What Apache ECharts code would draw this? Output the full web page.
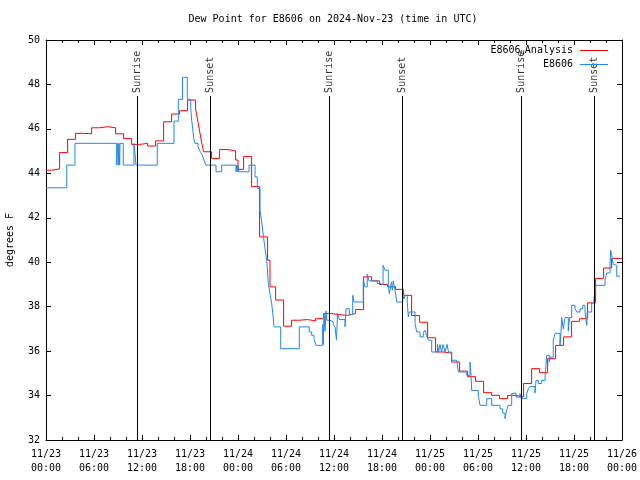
<!DOCTYPE html>
<html>
<head>
<meta charset="utf-8">
<script src="https://cdn.jsdelivr.net/npm/echarts@6/dist/echarts.min.js"></script>
<style>html,body{margin:0;padding:0;background:#fff}#c{width:640px;height:480px}</style>
</head>
<body>
<div id="c"></div>
<script>
// ---- data (hours since 2024-11-23 00:00 UTC) ----
const xTickLabels = ['11/23\n00:00','11/23\n06:00','11/23\n12:00','11/23\n18:00','11/24\n00:00','11/24\n06:00','11/24\n12:00','11/24\n18:00','11/25\n00:00','11/25\n06:00','11/25\n12:00','11/25\n18:00','11/26\n00:00'];

const redTimes = [0,0.7,1.7,2.7,3.7,4.7,5.7,6.7,7.7,8.7,9.7,10.7,11.7,12.7,13.7,14.7,15.7,16.7,17.7,18.7,18.95,19.2,19.45,19.7,20.7,21.7,22.7,23.7,24.0,24.7,25.7,26.7,27.7,28.0,28.7,29.7,30.7,31.7,32.7,33.7,34.7,35.7,36.7,37.7,38.7,39.7,40.7,41.7,42.7,43.7,44.7,45.7,46.7,47.7,48.7,49.7,50.7,51.7,52.7,53.7,54.7,55.7,56.7,57.7,58.7,59.7,60.7,61.7,62.7,63.7,64.7,65.7,66.7,67.7,68.7,69.7,70.7,72];
const redValues = [44.14,44.2,44.94,45.53,45.8,45.78,46.05,46.1,46.05,45.78,45.57,45.3,45.35,45.23,45.46,46.32,46.67,46.82,47.3,46.9,46.4,45.9,45.4,44.97,44.67,45.07,45.01,44.6,44.18,44.76,43.4,41.14,40.09,38.89,38.3,37.12,37.39,37.42,37.36,37.46,37.69,37.64,37.61,37.69,37.87,39.34,39.16,39.0,38.89,38.78,38.51,37.6,37.3,36.6,35.96,35.91,35.51,35.1,34.85,34.64,34.13,34.01,33.86,34.01,33.93,34.54,35.21,35.03,35.66,36.26,36.64,37.34,37.46,38.17,39.27,39.74,40.17,40.17];

const blueTimes = [0,2.59,3.62,8.84,8.94,9.04,9.12,9.21,9.25,9.66,11.0,11.25,13.91,16.0,16.54,17.06,17.66,18.09,18.21,18.34,18.46,18.62,19.0,19.25,19.5,19.75,20.0,21.25,21.96,23.75,23.84,23.91,24.0,24.09,25.38,26.13,26.41,26.75,26.94,27.16,27.38,27.59,27.79,28.0,28.21,28.38,28.5,29.34,31.66,32.91,33.21,33.5,33.75,34.59,34.66,34.75,34.88,35.0,35.09,35.5,35.91,36.13,36.31,36.44,36.66,37.38,37.5,37.91,38.34,38.5,39.66,39.88,40.16,40.38,41.41,41.75,42.13,42.38,42.79,42.91,43.0,43.19,43.29,43.41,43.63,43.84,44.59,44.75,44.88,45.16,45.29,45.41,46.13,46.34,46.75,47.16,47.38,47.56,47.79,48.21,48.94,49.06,49.25,49.44,49.63,49.88,50.13,50.31,50.71,51.34,51.54,52.59,53.0,53.13,53.21,54.04,54.25,55.09,55.71,56.75,57.09,57.38,57.5,57.75,58.21,58.41,58.75,59.25,59.38,60.09,60.29,60.5,61.13,61.25,61.54,61.96,62.38,62.59,62.91,63.0,63.41,63.63,64.25,64.38,64.46,64.66,64.88,65.29,65.44,65.71,66.13,66.34,66.75,67.09,67.38,67.59,67.66,68.21,68.5,68.63,68.75,69.88,70.09,70.5,70.59,70.71,70.91,71.13,71.34,71.75];
const blueValues = [43.35,44.37,45.35,44.37,45.35,44.37,45.35,44.37,45.35,44.37,45.35,44.37,45.35,46.35,47.33,48.32,47.33,46.9,46.4,46.0,45.6,45.35,45.2,45.0,44.85,44.6,44.37,44.07,44.37,44.07,44.37,44.07,44.37,44.07,44.37,43.84,43.32,42.34,41.9,41.22,40.6,40.09,39.04,38.59,38.14,37.61,37.09,36.11,37.09,36.86,36.71,36.56,36.26,37.2,36.3,37.7,36.9,37.8,37.39,37.31,37.2,37.09,36.5,37.69,37.42,37.09,37.91,37.64,38.51,38.21,39.19,38.89,39.46,39.16,39.04,39.0,39.86,39.64,39.0,38.59,38.74,39.11,38.74,39.16,38.74,38.21,38.51,38.35,38.51,38.2,37.54,37.76,37.24,36.86,36.64,36.82,36.94,36.7,36.49,35.96,36.3,35.96,36.3,35.96,36.3,35.96,36.3,35.96,35.59,35.66,35.06,34.91,35.5,34.91,34.23,34.0,33.56,33.86,33.56,33.4,33.21,32.96,33.2,33.56,34.09,34.11,33.93,34.09,33.86,34.09,34.3,34.41,34.11,34.68,34.54,34.68,34.83,35.81,35.5,35.73,36.49,36.8,36.26,36.9,37.51,37.0,37.51,36.9,37.51,38.06,37.9,37.76,37.9,38.06,37.76,37.16,37.76,38.17,38.4,38.67,38.96,39.19,39.52,39.94,40.54,40.32,39.9,39.86,39.37,39.4];

const sunTimes = [11.42, 20.5, 35.43, 44.5, 59.45, 68.5];
const sunLabels = ['Sunrise','Sunset','Sunrise','Sunset','Sunrise','Sunset'];
const sunLineTop = 47.48;
const sunLabelBase = 47.62;

const seriesNames = ['E8606 Analysis', 'E8606'];
// ---------------------------------

const FONT = 'DejaVu Sans Mono';
const zip = (a, b) => a.map((t, i) => [t, b[i]]);

const chart = echarts.init(document.getElementById('c'), null, {renderer: 'canvas'});
const tickStyle = {color: '#000', width: 1};

chart.setOption({
  animation: false,
  backgroundColor: '#fff',
  title: {
    text: 'Dew Point for E8606 on 2024-Nov-23 (time in UTC)',
    left: 328, top: 9, textAlign: 'center',
    textStyle: {fontFamily: FONT, fontSize: 10, fontWeight: 'normal', color: '#000'}
  },
  legend: {
    data: seriesNames,
    orient: 'vertical', right: 27, top: 40, align: 'right',
    itemWidth: 28, itemHeight: 10, itemGap: 3,
    icon: 'path://M0,4.5 L28,4.5 L28,5.5 L0,5.5 Z',
    formatter: n => n === 'E8606 Analysis' ? 'E8606{s|u}Analysis' : n,
    textStyle: {fontFamily: FONT, fontSize: 10, color: '#000', padding: [0, 2, 0, 0], lineHeight: 11,
      rich: {s: {fontFamily: FONT, fontSize: 7, color: '#000', lineHeight: 11, padding: [4, 0, 0, 0]}}}
  },
  grid: {left: 46, right: 18, top: 40, bottom: 40, containLabel: false, outerBoundsMode: 'none'},
  xAxis: [{
    type: 'value', min: 0, max: 72, interval: 6, position: 'bottom',
    axisLine: {show: true, onZero: false, lineStyle: tickStyle},
    axisTick: {show: true, inside: true, length: 5, lineStyle: tickStyle},
    minorTick: {show: true, splitNumber: 3, length: 3, lineStyle: tickStyle},
    splitLine: {show: false}, minorSplitLine: {show: false},
    axisLabel: {formatter: v => xTickLabels[Math.round(v / 6)], fontFamily: FONT, fontSize: 10, color: '#000', lineHeight: 14, margin: 7}
  }, {
    type: 'value', min: 0, max: 72, interval: 6, position: 'top',
    axisLine: {show: true, onZero: false, lineStyle: tickStyle},
    axisTick: {show: true, inside: true, length: 5, lineStyle: tickStyle},
    minorTick: {show: true, splitNumber: 3, length: 3, lineStyle: tickStyle},
    splitLine: {show: false}, axisLabel: {show: false}
  }],
  yAxis: [{
    type: 'value', min: 32, max: 50, interval: 2, position: 'left',
    name: 'degrees F', nameLocation: 'middle', nameGap: 31, nameRotate: 90,
    nameTextStyle: {fontFamily: FONT, fontSize: 10, color: '#000'},
    axisLine: {show: true, onZero: false, lineStyle: tickStyle},
    axisTick: {show: true, inside: true, length: 5, lineStyle: tickStyle},
    splitLine: {show: false},
    axisLabel: {fontFamily: FONT, fontSize: 10, color: '#000', margin: 6}
  }, {
    type: 'value', min: 32, max: 50, interval: 2, position: 'right',
    axisLine: {show: true, onZero: false, lineStyle: tickStyle},
    axisTick: {show: true, inside: true, length: 5, lineStyle: tickStyle},
    splitLine: {show: false}, axisLabel: {show: false}
  }],
  series: [{
    name: 'sun', type: 'scatter', symbolSize: 0, silent: true, z: 1,
    data: sunTimes.map((t, i) => ({value: [t, sunLabelBase], name: sunLabels[i]})),
    label: {show: true, formatter: p => p.name, position: 'inside', rotate: 90,
      align: 'left', verticalAlign: 'middle', fontFamily: FONT, fontSize: 10, color: '#000'},
    markLine: {
      silent: true, symbol: 'none', animation: false,
      lineStyle: {color: '#000', width: 1, type: 'solid'},
      label: {show: false},
      data: sunTimes.map(t => [{coord: [t, 32]}, {coord: [t, sunLineTop]}])
    }
  }, {
    name: seriesNames[0], type: 'line', step: 'end', showSymbol: false, z: 2,
    color: '#ff0000', lineStyle: {color: '#ff0000', width: 1},
    data: zip(redTimes, redValues)
  }, {
    name: seriesNames[1], type: 'line', step: 'end', showSymbol: false, z: 3,
    color: '#1e88f0', lineStyle: {color: '#1e88f0', width: 1},
    data: zip(blueTimes, blueValues)
  }]
});
</script>
</body>
</html>
